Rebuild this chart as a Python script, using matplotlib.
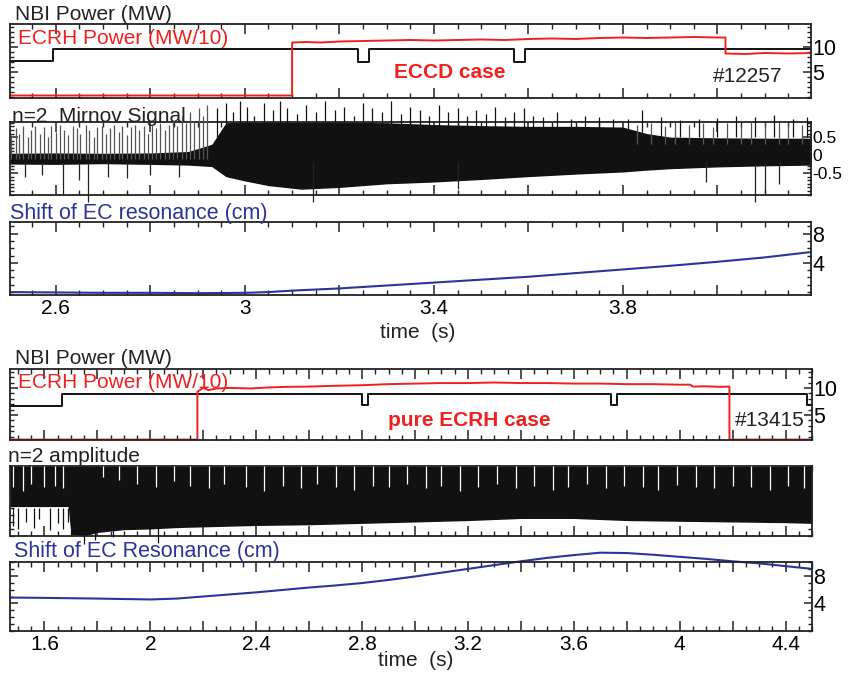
import numpy as np
import matplotlib
matplotlib.use('Agg')
import matplotlib.pyplot as plt
from matplotlib.ticker import MultipleLocator, FixedLocator, FuncFormatter

plt.rcParams['font.family'] = ['Liberation Sans', 'DejaVu Sans']

W, H = 851, 675
RED = '#f0201e'
BLUE = '#2b3598'

# ================= shot #12257 (ECCD case) =================
nbi1_t = [2.50, 2.593, 2.593, 3.240, 3.240, 3.262, 3.262, 3.570, 3.570, 3.592, 3.592, 4.20]
nbi1_v = [7.2, 7.2, 9.6, 9.6, 7.1, 7.1, 9.6, 9.6, 7.1, 7.1, 9.6, 9.6]

ecrh1_t = [2.50, 3.100, 3.100, 3.13, 3.16, 3.20, 3.25, 3.30, 3.35, 3.40, 3.45, 3.50, 3.55, 3.60,
           3.65, 3.70, 3.75, 3.80, 3.85, 3.90, 3.95, 4.00, 4.017, 4.017, 4.06, 4.10, 4.15, 4.20]
ecrh1_v = [0.3, 0.3, 10.9, 11.0, 10.9, 11.1, 11.2, 11.3, 11.4, 11.3, 11.4, 11.5, 11.4, 11.6,
           11.7, 11.6, 11.8, 11.9, 11.8, 11.9, 12.0, 11.9, 11.9, 8.7, 8.6, 8.8, 8.7, 8.8]

# Mirnov signal envelope
mir_t = [2.50, 2.60, 2.70, 2.80, 2.88, 2.93, 2.96, 3.00, 3.05, 3.12, 3.20, 3.30, 3.40, 3.50,
         3.60, 3.70, 3.80, 3.85, 3.90, 4.00, 4.10, 4.20]
mir_lo = [-0.25, -0.26, -0.24, -0.26, -0.28, -0.32, -0.6, -0.72, -0.85, -0.95, -0.9, -0.8, -0.75, -0.68,
          -0.6, -0.53, -0.47, -0.42, -0.38, -0.33, -0.3, -0.28]
mir_hi = [0.05, 0.06, 0.05, 0.06, 0.1, 0.3, 0.9, 0.92, 0.92, 0.92, 0.92, 0.9, 0.85, 0.82,
          0.8, 0.8, 0.78, 0.6, 0.5, 0.48, 0.47, 0.47]
# upward spikes in the early (pre-ECCD) phase
mir_up_t = [2.505, 2.515, 2.522, 2.530, 2.541, 2.548, 2.556, 2.566, 2.574, 2.583, 2.590, 2.601,
            2.609, 2.618, 2.626, 2.637, 2.645, 2.652, 2.663, 2.671, 2.680, 2.688, 2.697, 2.706,
            2.714, 2.724, 2.733, 2.741, 2.750, 2.760, 2.768, 2.777, 2.786, 2.795, 2.803, 2.812,
            2.821, 2.830, 2.840, 2.848, 2.857, 2.866, 2.875, 2.884, 2.893, 2.902, 2.911, 2.920]
mir_up_v = [0.55, 0.75, 0.6, 0.8, 0.5, 0.7, 0.82, 0.6, 0.78, 0.5, 0.8, 0.65,
            0.84, 0.7, 0.55, 0.8, 0.75, 0.6, 0.85, 0.7, 0.5, 0.78, 0.82, 0.6,
            0.75, 0.85, 0.65, 0.8, 0.55, 0.78, 0.85, 0.7, 0.8, 0.6, 0.86, 0.75,
            0.9, 0.7, 0.85, 0.95, 0.8, 1.1, 0.9, 1.2, 0.95, 1.3, 1.1, 1.4]
# spikes poking above the box during ECCD
mir_top_t = [2.94, 2.96, 2.975, 2.99, 3.005, 3.02, 3.04, 3.06, 3.075, 3.09, 3.11, 3.13, 3.15,
             3.17, 3.19, 3.21, 3.23, 3.25, 3.27, 3.29, 3.31, 3.33, 3.35, 3.37, 3.39, 3.41,
             3.43, 3.45, 3.47, 3.49, 3.51, 3.53, 3.55, 3.57, 3.59, 3.61, 3.63, 3.66, 3.69,
             3.72, 3.75, 3.78, 3.81, 3.84, 3.88, 3.92, 3.96, 4.00, 4.04, 4.08, 4.12, 4.16, 4.19]
mir_top_v = [1.3, 1.45, 1.2, 1.5, 1.35, 1.1, 1.45, 1.25, 1.5, 1.3, 1.15, 1.4, 1.2,
             1.5, 1.25, 1.35, 1.1, 1.45, 1.3, 1.2, 1.5, 1.15, 1.35, 1.25, 1.1, 1.4,
             1.2, 1.3, 1.1, 1.25, 1.15, 1.35, 1.05, 1.2, 1.3, 1.1, 1.05, 1.2, 1.0,
             1.1, 1.05, 1.0, 1.0, 1.25, 1.05, 0.98, 1.0, 1.02, 1.1, 1.05, 1.12, 1.0, 1.05]
# grey spikes in the late phase
mir_gray_t = [3.83, 3.86, 3.89, 3.91, 3.94, 3.97, 3.99, 4.02, 4.05, 4.07, 4.10, 4.13, 4.15, 4.18]
mir_gray_v = [0.85, 0.9, 0.8, 0.92, 0.85, 0.9, 0.78, 0.9, 0.85, 0.92, 0.88, 0.92, 0.9, 0.85]
# downward spikes
mir_dn_t = [2.535, 2.57, 2.615, 2.65, 2.668, 2.71, 2.75, 2.80, 2.86, 3.145, 3.45, 3.975, 4.08, 4.10, 4.13]
mir_dn_v = [-0.6, -0.55, -1.1, -0.7, -1.3, -0.6, -0.65, -0.55, -0.6, -1.3, -0.95, -0.75, -1.3, -1.1, -0.8]

shift1_t = [2.50, 2.60, 2.70, 2.80, 2.90, 3.00, 3.05, 3.10, 3.20, 3.30, 3.40, 3.50, 3.60, 3.70,
            3.80, 3.90, 4.00, 4.10, 4.20]
shift1_v = [0.0, -0.05, -0.1, -0.1, -0.15, -0.1, 0.0, 0.2, 0.5, 0.9, 1.3, 1.7, 2.1, 2.6,
            3.1, 3.6, 4.15, 4.75, 5.5]

# ================= shot #13415 (pure ECRH case) =================
nbi2_t = [1.47, 1.665, 1.665, 2.800, 2.800, 2.822, 2.822, 3.740, 3.740, 3.762, 3.762, 4.482, 4.482, 4.50]
nbi2_v = [6.7, 6.7, 8.9, 8.9, 6.8, 6.8, 8.9, 8.9, 6.8, 6.8, 8.9, 8.9, 6.9, 6.9]

ecrh2_t = [1.47, 2.178, 2.178, 2.20, 2.22, 2.25, 2.30, 2.38, 2.45, 2.52, 2.60, 2.70, 2.80, 2.90,
           3.00, 3.10, 3.20, 3.30, 3.40, 3.50, 3.60, 3.70, 3.80, 3.90, 4.00, 4.04, 4.05, 4.10,
           4.15, 4.188, 4.188, 4.50]
ecrh2_v = [0.45, 0.45, 9.3, 10.0, 9.6, 9.9, 10.0, 9.9, 10.1, 10.2, 10.25, 10.4, 10.5, 10.7,
           10.8, 10.9, 10.9, 11.0, 10.9, 10.9, 10.8, 10.8, 10.7, 10.7, 10.6, 10.6, 10.25, 10.3,
           10.2, 10.25, 0.45, 0.45]

# n=2 amplitude (relative units of the panel)
amp_t = [1.47, 1.69, 1.70, 1.75, 1.80, 1.90, 2.00, 2.10, 2.20, 2.40, 2.60, 2.80, 3.00, 3.20,
         3.40, 3.60, 3.80, 4.00, 4.20, 4.40, 4.50]
amp_lo = [0.42, 0.42, 0.02, 0.0, 0.05, 0.09, 0.1, 0.12, 0.13, 0.15, 0.16, 0.18, 0.2, 0.22,
          0.25, 0.25, 0.22, 0.21, 0.2, 0.19, 0.18]
amp_hi = [1.0] * len(amp_t)
amp_gap_t = [1.48, 1.52, 1.55, 1.60, 1.64, 1.67, 1.82, 1.88, 1.95, 2.02, 2.09, 2.15, 2.22, 2.28,
             2.36, 2.43, 2.50, 2.57, 2.63, 2.70, 2.77, 2.84, 2.90, 2.97, 3.04, 3.10, 3.17, 3.24,
             3.31, 3.38, 3.45, 3.52, 3.58, 3.65, 3.72, 3.79, 3.86, 3.92, 3.99, 4.06, 4.13, 4.20,
             4.27, 4.34, 4.41, 4.47]
amp_gap_v = [0.7, 0.65, 0.75, 0.7, 0.72, 0.68, 0.85, 0.8, 0.75, 0.7, 0.78, 0.72, 0.68, 0.75,
             0.7, 0.65, 0.72, 0.68, 0.75, 0.7, 0.66, 0.72, 0.7, 0.75, 0.68, 0.72, 0.65, 0.7,
             0.74, 0.68, 0.72, 0.66, 0.7, 0.75, 0.68, 0.72, 0.7, 0.66, 0.73, 0.7, 0.68, 0.72,
             0.7, 0.66, 0.72, 0.68]
amp_dn_t = [1.48, 1.50, 1.53, 1.56, 1.58, 1.62, 1.65, 1.67, 1.69, 1.75, 1.79, 1.86, 2.03]
amp_dn_v = [0.15, 0.1, 0.2, 0.12, 0.25, 0.08, 0.18, 0.1, 0.2, -0.12, -0.05, -0.02, -0.1]

shift2_t = [1.47, 1.6, 1.8, 2.0, 2.1, 2.2, 2.3, 2.4, 2.5, 2.6, 2.7, 2.8, 2.9, 3.0, 3.1, 3.2,
            3.3, 3.4, 3.5, 3.6, 3.7, 3.8, 3.9, 4.0, 4.1, 4.2, 4.3, 4.4, 4.5]
shift2_v = [4.85, 4.8, 4.7, 4.57, 4.7, 5.0, 5.3, 5.6, 5.95, 6.3, 6.6, 6.95, 7.4, 7.9, 8.45, 9.0,
            9.55, 10.1, 10.6, 11.0, 11.35, 11.3, 11.05, 10.75, 10.45, 10.1, 9.8, 9.4, 9.0]

# ================= figure =================
fig = plt.figure(figsize=(W / 100, H / 100), dpi=100)


def px_axes(x0, y0, x1, y1):
    ax = fig.add_axes([x0 / W, 1 - y1 / H, (x1 - x0) / W, (y1 - y0) / H])
    ax.set_facecolor('none')
    for s in ax.spines.values():
        s.set_linewidth(1.3)
        s.set_color('#222222')
    return ax


def style_x(ax, xlim, base, show_labels):
    ax.set_xlim(*xlim)
    ax.xaxis.set_major_locator(MultipleLocator(0.2))
    ax.xaxis.set_minor_locator(MultipleLocator(0.05))

    def fmt(x, p):
        k = (x - base) / 0.4
        return f'{x:g}' if abs(k - round(k)) < 1e-6 else ''
    ax.xaxis.set_major_formatter(FuncFormatter(fmt))
    ax.tick_params(axis='x', which='both', direction='in', top=True, bottom=True,
                   labelbottom=show_labels, labelsize=15, pad=3, color='#222222')
    ax.tick_params(axis='x', which='major', length=7, width=1.1)
    ax.tick_params(axis='x', which='minor', length=3.5, width=1.0)


def style_y(ax, ylim, majors, minor, labels=True, size=15.5):
    ax.set_ylim(*ylim)
    ax.yaxis.set_major_locator(FixedLocator(majors))
    if minor:
        ax.yaxis.set_minor_locator(MultipleLocator(minor))
    ax.yaxis.set_major_formatter(FuncFormatter(lambda v, p: f'{v:g}'))
    ax.tick_params(axis='y', which='both', direction='in', left=True, right=True,
                   labelleft=False, labelright=labels, labelsize=size, pad=1, color='#222222')
    ax.tick_params(axis='y', which='major', length=6, width=1.1)
    ax.tick_params(axis='y', which='minor', length=3, width=1.0)


def ftext(x, y, s, **kw):
    kw.setdefault('ha', 'left')
    kw.setdefault('va', 'center')
    fig.text(x / W, 1 - y / H, s, **kw)


XL1 = (2.503, 4.198)
XL2 = (1.47, 4.50)

# ---- panel 1 : powers, ECCD case
ax1 = px_axes(10, 24, 811, 98)
ax1.plot(nbi1_t, nbi1_v, color='#111111', lw=1.4)
ax1.plot(ecrh1_t, ecrh1_v, color=RED, lw=1.4)
style_x(ax1, XL1, 2.6, False)
style_y(ax1, (-0.2, 14.6), [5, 10], 1)

# ---- panel 2 : Mirnov signal
ax2 = px_axes(10, 122, 811, 195)
ax2.text(12 / W, 1 - 117 / H, 'n=2  Mirnov Signal', transform=fig.transFigure,
         fontsize=15, color='#222222', ha='left', va='center', zorder=1)
ax2.fill_between(mir_t, mir_lo, mir_hi, color='#111111', lw=0, zorder=2)
ax2.vlines(mir_up_t, -0.1, mir_up_v, color='#555555', lw=0.9, zorder=3, clip_on=False)
ax2.vlines(mir_top_t, 0.5, mir_top_v, color='#111111', lw=0.9, zorder=3, clip_on=False)
ax2.vlines(mir_gray_t, 0.3, mir_gray_v, color='#555555', lw=0.9, zorder=3, clip_on=False)
ax2.vlines(mir_dn_t, -0.2, mir_dn_v, color='#222222', lw=0.9, zorder=3, clip_on=False)
style_x(ax2, XL1, 2.6, False)
style_y(ax2, (-1.11, 0.92), [-0.5, 0, 0.5], 0.1, size=12.5)

# ---- panel 3 : shift of EC resonance
ax3 = px_axes(10, 222, 811, 295)
ax3.plot(shift1_t, shift1_v, color=BLUE, lw=1.5)
style_x(ax3, XL1, 2.6, True)
style_y(ax3, (-0.4, 9.6), [4, 8], 1)

# ---- panel 4 : powers, pure ECRH case
ax4 = px_axes(10, 369, 812, 440)
ax4.plot(nbi2_t, nbi2_v, color='#111111', lw=1.4)
ax4.plot(ecrh2_t, ecrh2_v, color=RED, lw=1.4)
style_x(ax4, XL2, 1.6, False)
style_y(ax4, (0.37, 13.5), [5, 10], 1)

# ---- panel 5 : n=2 amplitude
ax5 = px_axes(10, 466, 812, 536)
ax5.fill_between(amp_t, amp_lo, amp_hi, color='#111111', lw=0, zorder=2)
ax5.vlines(amp_gap_t, amp_gap_v, 1.0, color='white', lw=0.9, zorder=3)
ax5.vlines(amp_dn_t, 0.4, amp_dn_v, color='#111111', lw=0.9, zorder=3, clip_on=False)
style_x(ax5, XL2, 1.6, False)
style_y(ax5, (0, 1), [], 0.1, labels=False)

# ---- panel 6 : shift of EC resonance
ax6 = px_axes(10, 562, 812, 631)
ax6.plot(shift2_t, shift2_v, color=BLUE, lw=1.5, clip_on=False)
style_x(ax6, XL2, 1.6, True)
style_y(ax6, (0, 10), [4, 8], 1)

# ---- texts
ftext(15, 14, 'NBI Power (MW)', fontsize=15, color='#222222')
ftext(18, 38, 'ECRH Power (MW/10)', fontsize=15, color=RED)
ftext(450, 73, 'ECCD case', fontsize=15, color=RED, fontweight='bold', ha='center')
ftext(748, 76, '#12257', fontsize=15, color='#222222', ha='center')
ftext(10, 213, 'Shift of EC resonance (cm)', fontsize=15.5, color=BLUE)
ftext(418, 332, 'time  (s)', fontsize=15, color='#222222', ha='center')

ftext(15, 358, 'NBI Power (MW)', fontsize=15, color='#222222')
ftext(18, 382, 'ECRH Power (MW/10)', fontsize=15, color=RED)
ftext(469, 421, 'pure ECRH case', fontsize=15, color=RED, fontweight='bold', ha='center')
ftext(770, 421, '#13415', fontsize=15, color='#222222', ha='center')
ftext(8, 457, 'n=2 amplitude', fontsize=15, color='#222222')
ftext(14, 552, 'Shift of EC Resonance (cm)', fontsize=15.5, color=BLUE)
ftext(416, 660, 'time  (s)', fontsize=15, color='#222222', ha='center')

fig.savefig('out.png', dpi=100)
